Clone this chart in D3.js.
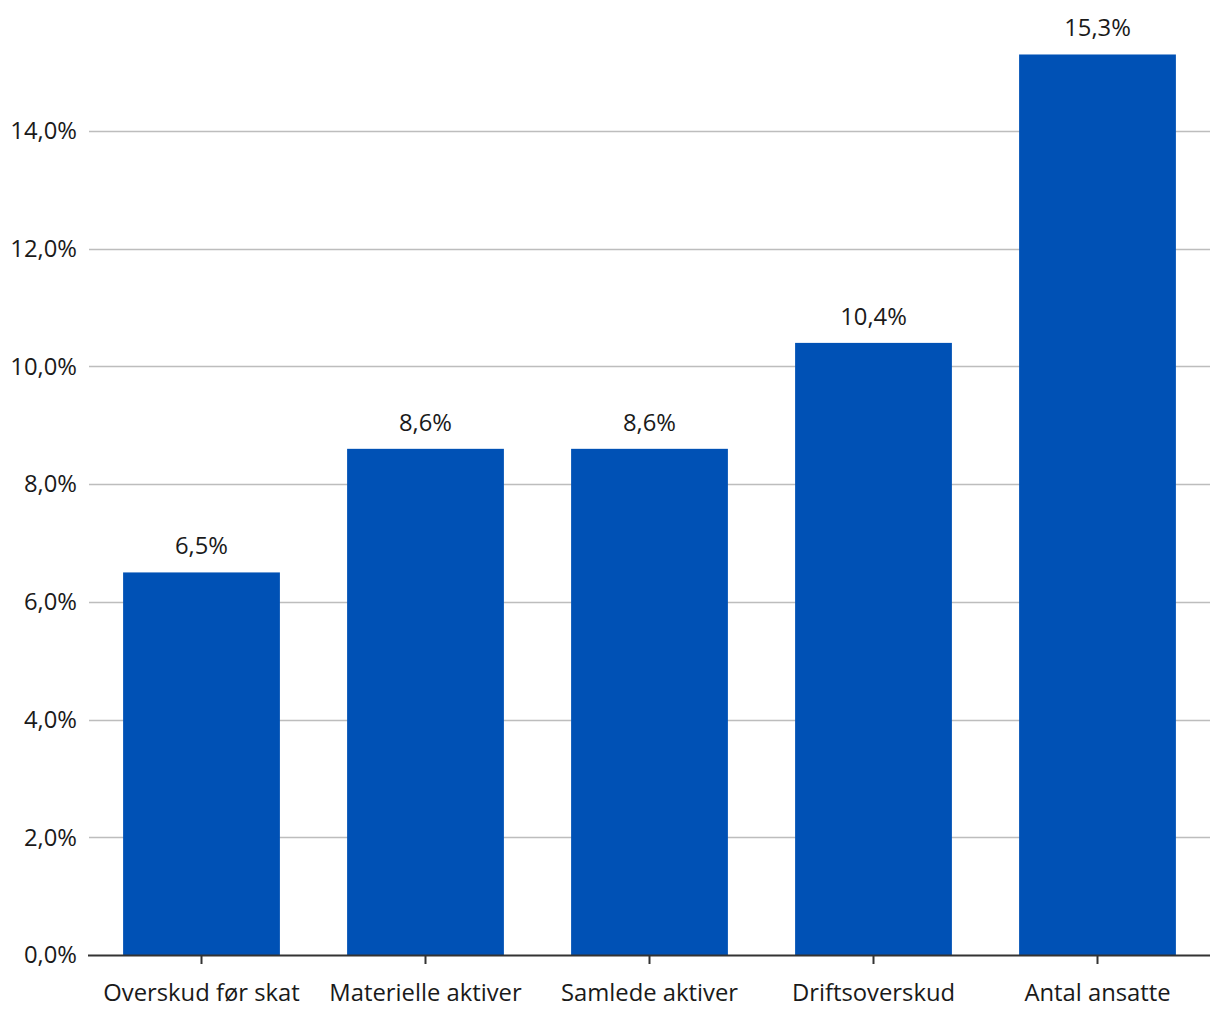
<!DOCTYPE html>
<html>
<head>
<meta charset="utf-8">
<script src="https://cdn.jsdelivr.net/npm/d3@7"></script>
<style>
  body { margin: 0; background: #fff; }
  svg text { font-family: "Open Sans", "Noto Sans", sans-serif; fill: #1a1a1a; }
</style>
</head>
<body>
<svg width="1220" height="1020"></svg>
<script>
const categories = ["Overskud før skat", "Materielle aktiver", "Samlede aktiver", "Driftsoverskud", "Antal ansatte"];
const values = [6.5, 8.6, 8.6, 10.4, 15.3];
const yTicks = [0, 2, 4, 6, 8, 10, 12, 14];

const fmt = v => d3.format(".1f")(v).replace(".", ",") + "%";
const fontSize = 23.8;

const svg = d3.select("svg");

const x = d3.scaleBand()
    .domain(categories)
    .range([89.5, 1209.5])
    .paddingInner(0.3)
    .paddingOuter(0.15);

const y = d3.scaleLinear()
    .domain([0, 14])
    .range([955, 131]);

// gridlines
svg.append("g")
    .selectAll("line")
    .data(yTicks.filter(d => d > 0))
    .join("line")
    .attr("x1", 89)
    .attr("x2", 1210)
    .attr("y1", d => Math.round(y(d)) + 0.5)
    .attr("y2", d => Math.round(y(d)) + 0.5)
    .attr("stroke", "#bdbdbd")
    .attr("stroke-width", 1.5);

// y tick labels
svg.append("g")
    .selectAll("text")
    .data(yTicks)
    .join("text")
    .attr("x", 77)
    .attr("y", d => y(d))
    .attr("dy", "0.35em")
    .attr("text-anchor", "end")
    .attr("font-size", fontSize)
    .text(fmt);

// bars
svg.append("g")
    .selectAll("rect")
    .data(values)
    .join("rect")
    .attr("x", (d, i) => x(categories[i]))
    .attr("width", x.bandwidth())
    .attr("y", d => y(d))
    .attr("height", d => y(0) - y(d))
    .attr("fill", "#0051b5");

// value labels
svg.append("g")
    .selectAll("text")
    .data(values)
    .join("text")
    .attr("x", (d, i) => x(categories[i]) + x.bandwidth() / 2)
    .attr("y", d => y(d) - 18)
    .attr("text-anchor", "middle")
    .attr("font-size", fontSize)
    .text(fmt);

// x axis
const xAxis = svg.append("g")
    .attr("transform", `translate(0,${y(0)})`)
    .call(d3.axisBottom(x).tickSize(9).tickPadding(20));
xAxis.select(".domain")
    .attr("d", "M88,0.5H1210")
    .attr("stroke", "#333")
    .attr("stroke-width", 2);
xAxis.selectAll(".tick line").attr("stroke", "#333").attr("stroke-width", 2);
xAxis.selectAll(".tick text")
    .attr("font-size", fontSize)
    .attr("font-family", "Open Sans, Noto Sans, sans-serif")
    .attr("fill", "#1a1a1a");
</script>
</body>
</html>
